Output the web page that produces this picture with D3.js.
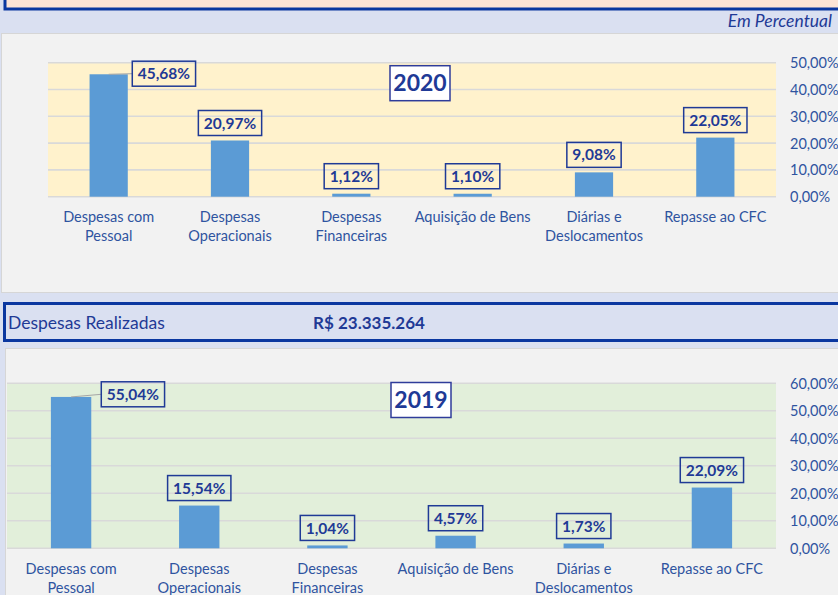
<!DOCTYPE html>
<html><head><meta charset="utf-8">
<script src="https://cdn.jsdelivr.net/npm/d3@7"></script>
<style>body{margin:0;background:#DAE0F1;}svg{display:block;font-family:Lato,"Open Sans",sans-serif;}</style>
</head><body>
<svg id="c" width="838" height="595"></svg>
<script>
const categories = ["Despesas com\nPessoal","Despesas\nOperacionais","Despesas\nFinanceiras","Aquisição de Bens","Diárias e\nDeslocamentos","Repasse ao CFC"];
const values2020 = [45.68, 20.97, 1.12, 1.10, 9.08, 22.05];
const values2019 = [55.04, 15.54, 1.04, 4.57, 1.73, 22.09];
const ticks2020 = [0, 10, 20, 30, 40, 50];
const ticks2019 = [0, 10, 20, 30, 40, 50, 60];
const unitLabel = "Em Percentual";
const totalLabel = "Despesas Realizadas";
const totalValue = "R$ 23.335.264";

const loc = d3.formatLocale({decimal: ",", thousands: ".", grouping: [3], currency: ["R$ ", ""]});
const pct = v => loc.format(".2f")(v) + "%";

const svg = d3.select("#c");
const dark = "#1F3A96", mid = "#2F54A0";

// background bands
svg.append("rect").attr("x",0).attr("y",0).attr("width",838).attr("height",595).attr("fill","#DAE0F1");
svg.append("rect").attr("x",5).attr("y",-4).attr("width",840).attr("height",13).attr("fill","#FCE4D6").attr("stroke","#0A37A0").attr("stroke-width",3);
svg.append("text").attr("x",832).attr("y",27).attr("text-anchor","end").attr("font-style","italic")
  .attr("font-size",17.5).attr("fill",dark).text(unitLabel);

// panels
svg.append("rect").attr("x",1.5).attr("y",33.5).attr("width",840).attr("height",259).attr("fill","#F2F2F2").attr("stroke","#D6D6D6");
svg.append("rect").attr("x",4.5).attr("y",303.5).attr("width",840).attr("height",37).attr("fill","#DAE0F1").attr("stroke","#0A37A0").attr("stroke-width",3);
svg.append("text").attr("x",8).attr("y",329).attr("font-size",17.5).attr("fill",dark).text(totalLabel);
svg.append("text").attr("x",313).attr("y",329).attr("font-size",17).attr("font-weight","bold").attr("fill",dark).text(totalValue);
svg.append("rect").attr("x",5.5).attr("y",348.5).attr("width",840).attr("height",260).attr("fill","#F2F2F2").attr("stroke","#D6D6D6");

function chart(cfg){
  const g = svg.append("g");
  const x = d3.scaleBand().domain(categories).range([cfg.left, cfg.right]).paddingInner(0.685).paddingOuter(0.3425);
  const y = d3.scaleLinear().domain([0, d3.max(cfg.ticks)]).range([cfg.bottom, cfg.top]);
  g.append("rect").attr("x",cfg.left).attr("y",cfg.top).attr("width",cfg.right-cfg.left).attr("height",cfg.bottom-cfg.top).attr("fill",cfg.fill);
  // gridlines
  g.append("g").selectAll("line").data(cfg.ticks).join("line")
    .attr("x1",cfg.left).attr("x2",cfg.right).attr("y1",d=>y(d)).attr("y2",d=>y(d))
    .attr("stroke","#D9D9D9").attr("stroke-width",1.6);
  // y axis on right
  const ya = d3.axisRight(y).tickValues(cfg.ticks).tickFormat(pct).tickSize(0).tickPadding(0);
  const ag = g.append("g").attr("transform",`translate(790,0)`).call(ya);
  ag.select(".domain").remove();
  ag.selectAll("text").attr("font-size",14.5).attr("fill",mid).attr("font-family","Lato,'Open Sans',sans-serif").attr("dy","0.35em");
  // bars
  g.append("g").selectAll("rect").data(cfg.values).join("rect")
    .attr("x",(d,i)=>x(categories[i])).attr("width",x.bandwidth())
    .attr("y",d=>y(d)).attr("height",d=>cfg.bottom-y(d)).attr("fill","#5B9BD5");
  // category labels
  const cl = g.append("g").selectAll("text").data(categories).join("text")
    .attr("text-anchor","middle").attr("font-size",14.5).attr("fill",mid)
    .attr("transform",d=>`translate(${x(d)+x.bandwidth()/2},${cfg.bottom+25.5})`);
  cl.each(function(d){
    const t = d3.select(this);
    d.split("\n").forEach((ln,k)=>t.append("tspan").attr("x",0).attr("y",k*19).text(ln));
  });
  // value labels
  cfg.values.forEach((v,i)=>{
    const bx = x(categories[i]), bw = x.bandwidth(), top = y(v);
    const lg = g.append("g");
    const txt = lg.append("text").attr("font-size",15.5).attr("font-weight","bold").attr("fill",dark)
      .attr("text-anchor","middle").text(pct(v));
    const w = txt.node().getComputedTextLength() + 11, h = 25;
    let bl, bt;
    if (top - 5 - h < cfg.top) {
      bl = bx + bw + cfg.sideGap; bt = cfg.top - 1.5;
      lg.insert("line","text").attr("x1",bx+bw/2).attr("y1",top).attr("x2",bl).attr("y2",bt+h/2)
        .attr("stroke","#A6A6A6").attr("stroke-width",1);
    } else {
      bl = bx + bw/2 - w/2; bt = top - 5 - h;
    }
    lg.insert("rect","text").attr("x",bl).attr("y",bt).attr("width",w).attr("height",h)
      .attr("fill","none").attr("stroke","#1F3A96").attr("stroke-width",1.5);
    txt.attr("x",bl+w/2).attr("y",bt+h/2).attr("dy","0.36em");
  });
  // year title box
  const tg = g.append("g");
  tg.append("rect").attr("x",cfg.titleX-30).attr("y",cfg.titleY-17.5).attr("width",60).attr("height",35)
    .attr("fill","#FFFFFF").attr("stroke","#2F3C9A").attr("stroke-width",1.5);
  tg.append("text").attr("x",cfg.titleX).attr("y",cfg.titleY).attr("dy","0.36em").attr("text-anchor","middle")
    .attr("font-size",23).attr("font-weight","bold").attr("fill",dark).text(cfg.title);
}

chart({left:48, right:776, top:62.7, bottom:196.7, ticks:ticks2020, values:values2020, fill:"#FFF2CC",
       title:"2020", titleX:420, titleY:83.2, sideGap:4.5});
chart({left:7, right:776, top:383.3, bottom:548.3, ticks:ticks2019, values:values2019, fill:"#E2EFDA",
       title:"2019", titleX:421, titleY:400, sideGap:10});
</script>
</body></html>
